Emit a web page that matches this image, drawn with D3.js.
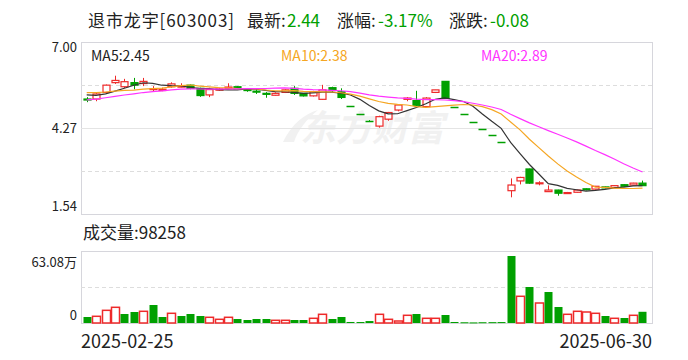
<!DOCTYPE html>
<html lang="zh">
<head>
<meta charset="utf-8">
<title>退市龙宇 K线</title>
<script src="https://cdn.jsdelivr.net/npm/d3@7/dist/d3.min.js"></script>
<style>
  body { margin: 0; background: #fff; }
  text { font-family: "Noto Sans CJK SC", "Noto Sans", sans-serif; }
</style>
</head>
<body>
<script>
var w = 688, h = 360;

// closes before the first visible day, only used to seed the moving averages
var histCloses = [4.80, 4.78, 4.85, 4.90, 4.88, 4.95, 5.00, 4.98, 5.05, 5.11,
                  5.30, 5.45, 5.52, 5.50, 5.53, 5.42, 5.38, 5.35, 5.29];

var opens = [5.19, 5.19, 5.40, 5.71, 5.58, 5.71, 5.68, 5.51, 5.46, 5.58,
             5.59, 5.63, 5.53, 5.32, 5.47, 5.53, 5.58, 5.49, 5.44, 5.37,
             5.31, 5.40, 5.53, 5.37, 5.29, 5.18, 5.55, 5.42, 4.98, 4.73,
             4.49, 4.33, 4.55, 4.84, 5.18, 5.14, 4.95, 5.40, 5.75, 4.95,
             4.70, 4.47, 4.25, 4.04, 3.84, 2.28, 2.59, 2.97, 2.52, 2.25,
             2.30, 2.20, 2.23, 2.34, 2.33, 2.40, 2.38, 2.47, 2.46, 2.52];
var highs = [5.25, 5.38, 5.65, 5.93, 5.83, 5.86, 5.86, 5.60, 5.55, 5.72,
             5.69, 5.65, 5.55, 5.55, 5.55, 5.69, 5.60, 5.54, 5.51, 5.41,
             5.40, 5.50, 5.60, 5.38, 5.45, 5.64, 5.58, 5.53, 4.98, 4.73,
             4.52, 4.66, 4.78, 5.00, 5.25, 5.45, 5.25, 5.48, 5.76, 4.95,
             4.70, 4.47, 4.25, 4.04, 3.84, 2.67, 2.72, 2.98, 2.58, 2.45,
             2.31, 2.24, 2.31, 2.35, 2.43, 2.41, 2.45, 2.48, 2.53, 2.60];
var lows  = [5.09, 5.12, 5.38, 5.67, 5.54, 5.50, 5.60, 5.44, 5.44, 5.55,
             5.56, 5.50, 5.26, 5.25, 5.45, 5.51, 5.50, 5.42, 5.35, 5.23,
             5.30, 5.38, 5.32, 5.27, 5.27, 5.16, 5.42, 5.19, 4.98, 4.73,
             4.49, 4.28, 4.50, 4.80, 5.12, 4.97, 4.93, 5.38, 5.21, 4.95,
             4.70, 4.47, 4.25, 4.04, 3.84, 2.07, 2.48, 2.50, 2.45, 2.24,
             2.12, 2.18, 2.22, 2.29, 2.32, 2.36, 2.37, 2.41, 2.45, 2.43];
var closes = [5.16, 5.35, 5.63, 5.78, 5.74, 5.63, 5.75, 5.52, 5.50, 5.67,
              5.60, 5.53, 5.30, 5.49, 5.51, 5.57, 5.51, 5.48, 5.43, 5.34,
              5.37, 5.48, 5.37, 5.29, 5.42, 5.48, 5.47, 5.24, 4.98, 4.73,
              4.49, 4.63, 4.76, 5.00, 5.22, 4.99, 5.22, 5.48, 5.21, 4.95,
              4.70, 4.47, 4.25, 4.04, 3.84, 2.46, 2.70, 2.52, 2.53, 2.30,
              2.20, 2.22, 2.30, 2.31, 2.42, 2.37, 2.44, 2.42, 2.52, 2.44];
var volumes = [52600, 58700, 111000, 137500, 78800, 96400, 102500, 157700, 52600, 85000,
               61300, 78800, 61300, 50000, 32400, 50000, 35000, 26300, 35000, 35000,
               23700, 23700, 26300, 26300, 41200, 76200, 35000, 52600, 9000, 8500,
               17000, 76200, 32400, 17500, 67500, 78800, 41200, 41200, 70100, 8800,
               6500, 5200, 6800, 7500, 8200, 587000, 234000, 315400, 175200, 271600,
               140200, 76200, 102500, 96400, 85000, 61300, 41200, 43800, 67500, 98258];

var priceTicks = [7.00, 4.27, 1.54];
var volTickLabels = ["63.08万", "0"];
var volMax = 630800;
var dateLabels = ["2025-02-25", "2025-06-30"];
var maPeriods = [5, 10, 20];
var maColors = ["#333333", "#f5a623", "#ff33ff"];
var maLabelX = [91, 281, 481];

var red = "#ee2a2a", green = "#00a000", border = "#d6d6dc";

var svg = d3.select("body").append("svg")
  .attr("width", w).attr("height", h);

var left = 81, right = 652;
var pTop = 42, pBot = 214, vTop = 251, vBot = 323;

var x = d3.scaleBand().domain(d3.range(closes.length)).range([82, 647.2]);
var cx = function(i) { return x(i) + x.bandwidth() / 2; };
var y = d3.scaleLinear().domain([1.54, 7.00]).range([pBot, pTop]);
var yv = d3.scaleLinear().domain([0, volMax]).range([vBot, vTop]);

// header
var header = [
  ["退市龙宇[603003]", 88, "#222", 146], ["最新:", 247, "#222"], ["2.44", 287, green],
  ["涨幅:", 337, "#222"], ["-3.17%", 378, green], ["涨跌:", 449, "#222"], ["-0.08", 490, green]
];
svg.selectAll("text.hdr").data(header).enter().append("text")
  .attr("class", "hdr")
  .attr("x", function(d) { return d[1]; })
  .attr("y", 27)
  .attr("font-size", "17px")
  .attr("fill", function(d) { return d[2]; })
  .attr("textLength", function(d) { return d[3] ? d[3] : null; })
  .attr("lengthAdjust", "spacing")
  .text(function(d) { return d[0]; });

// watermark
svg.append("path")
  .attr("d", "M283,142 C292,124 304,114 318,110 C306,120 298,130 294,142 Z")
  .attr("fill", "#f1f1f1");
svg.append("text")
  .attr("x", 372).attr("y", 141)
  .attr("text-anchor", "middle")
  .attr("font-size", "36px").attr("font-weight", "bold").attr("font-style", "italic")
  .attr("fill", "#f1f1f1")
  .text("东方财富");

// panel frames and grid
[[pTop, pBot], [vTop, vBot]].forEach(function(p) {
  svg.append("rect")
    .attr("x", left + 0.5).attr("y", p[0] + 0.5)
    .attr("width", right - left).attr("height", p[1] - p[0])
    .attr("fill", "none").attr("stroke", border);
});
var pq = (pBot - pTop) / 4;
[pTop + pq, pTop + 3 * pq].forEach(function(gy) {
  svg.append("line").attr("x1", left).attr("x2", right)
    .attr("y1", Math.round(gy) + 0.5).attr("y2", Math.round(gy) + 0.5)
    .attr("stroke", "#dddddd").attr("stroke-dasharray", "4,3");
});
svg.append("line").attr("x1", left).attr("x2", right)
  .attr("y1", Math.round(y(4.27)) + 0.5).attr("y2", Math.round(y(4.27)) + 0.5)
  .attr("stroke", "#e4e4e4");
svg.append("line").attr("x1", left).attr("x2", right)
  .attr("y1", Math.round((vTop + vBot) / 2) + 0.5).attr("y2", Math.round((vTop + vBot) / 2) + 0.5)
  .attr("stroke", "#dddddd").attr("stroke-dasharray", "4,3");

// price labels
svg.selectAll("text.pt").data(priceTicks).enter().append("text")
  .attr("class", "pt")
  .attr("x", 77)
  .attr("y", function(d, i) { return i == 0 ? y(d) + 10 : (i == 2 ? y(d) - 3 : y(d) + 5); })
  .attr("text-anchor", "end").attr("font-size", "13px").attr("fill", "#222")
  .text(function(d) { return d.toFixed(2); });

svg.selectAll("text.vt").data(volTickLabels).enter().append("text")
  .attr("class", "vt")
  .attr("x", 77)
  .attr("y", function(d, i) { return i == 0 ? vTop + 16 : vBot - 3; })
  .attr("text-anchor", "end").attr("font-size", "13px").attr("fill", "#222")
  .text(function(d) { return d; });

// volume caption
svg.append("text").attr("x", 83).attr("y", 239)
  .attr("font-size", "17px").attr("fill", "#222")
  .text("成交量:" + volumes[volumes.length - 1]);

// dates
svg.selectAll("text.dt").data(dateLabels).enter().append("text")
  .attr("class", "dt")
  .attr("x", function(d, i) { return i == 0 ? 81 : 652; })
  .attr("y", 348)
  .attr("text-anchor", function(d, i) { return i == 0 ? "start" : "end"; })
  .attr("font-size", "18px").attr("fill", "#222")
  .text(function(d) { return d; });

var prevClose = function(i) { return i == 0 ? histCloses[histCloses.length - 1] : closes[i - 1]; };
var data = closes.map(function(c, i) {
  return { i: i, o: opens[i], h: highs[i], l: lows[i], c: c, v: volumes[i], pc: prevClose(i) };
});
var candleColor = function(d) {
  if (d.c > d.o) return red;
  if (d.c < d.o) return green;
  return d.c >= d.pc ? red : green;
};

// candles
var cg = svg.append("g");
data.forEach(function(d) {
  var col = candleColor(d);
  var xc = Math.round(cx(d.i)) + 0.5;
  var top = y(Math.max(d.o, d.c)), bot = y(Math.min(d.o, d.c));
  cg.append("line").attr("x1", xc).attr("x2", xc)
    .attr("y1", y(d.h)).attr("y2", y(d.l))
    .attr("stroke", col);
  if (d.o == d.c) {
    cg.append("line").attr("x1", xc - 4).attr("x2", xc + 4)
      .attr("y1", Math.round(top) + 0.5).attr("y2", Math.round(top) + 0.5)
      .attr("stroke", col).attr("stroke-width", 1.5);
  } else {
    cg.append("rect")
      .attr("x", xc - 3.5).attr("y", top)
      .attr("width", 7).attr("height", Math.max(1, bot - top))
      .attr("fill", d.c > d.o ? "#fff" : col)
      .attr("stroke", col).attr("stroke-width", 1.2);
  }
});

// moving averages
var all = histCloses.concat(closes);
var off = histCloses.length;
maPeriods.forEach(function(n, k) {
  var ma = closes.map(function(c, i) {
    return d3.mean(all.slice(off + i - n + 1, off + i + 1));
  });
  svg.append("path")
    .datum(ma)
    .attr("fill", "none").attr("stroke", maColors[k]).attr("stroke-width", 1.2)
    .attr("d", d3.line().x(function(d, i) { return cx(i); }).y(function(d) { return y(d); }));
});
var maLast = { 5: "2.45", 10: "2.38", 20: "2.89" };
maPeriods.forEach(function(n, k) {
  svg.append("text").attr("x", maLabelX[k]).attr("y", 61)
    .attr("font-size", "14px").attr("fill", maColors[k] == "#333333" ? "#222" : maColors[k])
    .text("MA" + n + ":" + maLast[n]);
});

// volume bars
svg.append("g").selectAll("rect").data(data).enter().append("rect")
  .attr("x", function(d) { return Math.round(cx(d.i)) - 3.5; })
  .attr("y", function(d) { return yv(d.v); })
  .attr("width", 8)
  .attr("height", function(d) { return Math.max(1, vBot - yv(d.v)); })
  .attr("fill", function(d) { return d.c >= d.pc ? "#fff" : green; })
  .attr("stroke", function(d) { return d.c >= d.pc ? red : "none"; })
  .attr("stroke-width", 1.5);
</script>
</body>
</html>
